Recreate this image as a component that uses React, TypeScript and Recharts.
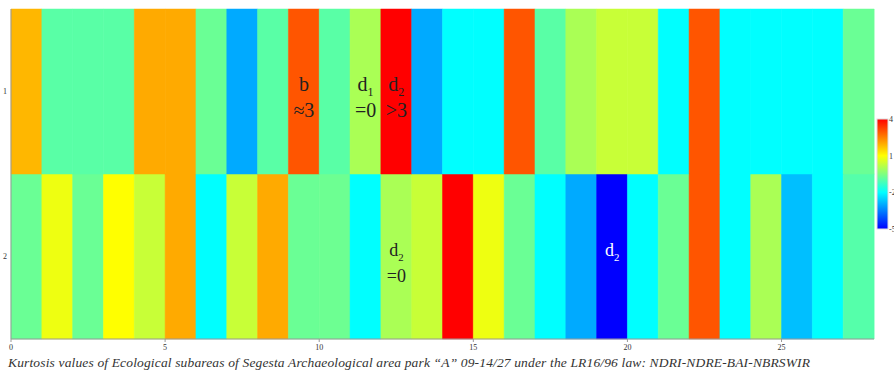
import React from 'react';
import { ComposedChart, Bar, XAxis, YAxis, Cell, LabelList } from 'recharts';

// Kurtosis per ecological subarea (28 columns), row "1" (top) and row "2" (bottom)
const row1Kurtosis = [1.85, -0.95, -0.95, -0.95, 2.0, 2.0, -0.75, -3.0, -0.95, 3.0, -0.95, 0.0, 4.0, -3.0, -2.0, -2.0, 3.0, -0.95, 0.0, 0.35, 0.35, -2.0, 3.0, -2.0, -2.0, -2.0, -2.0, -0.75];
const row2Kurtosis = [-0.75, 0.8, -0.75, 1.0, 0.35, 2.0, -2.0, 0.35, 2.0, -0.75, -0.72, -2.0, 0.0, 0.35, 4.0, 0.8, -0.75, -2.0, -3.0, -5.0, -2.0, -0.75, 3.0, -2.0, 0.0, -2.75, -2.0, -1.0];
const xTicks = [0, 5, 10, 15, 20, 25];
const yTickValues = [1.5, 0.5];
const yTickLabels = ['1', '2'];
const colorbarTicks = [4, 1, -2, -5];
const colorMin = -5;
const colorMax = 4;
const title = 'Kurtosis values of Ecological subareas of Segesta Archaeological area park \u201CA\u201D 09-14/27 under the LR16/96 law: NDRI-NDRE-BAI-NBRSWIR';

const annotations = [
  { row: 1, col: 9, main: 'b', sub: '', second: '\u22483', color: '#222' },
  { row: 1, col: 11, main: 'd', sub: '1', second: '=0', color: '#222' },
  { row: 1, col: 12, main: 'd', sub: '2', second: '>3', color: '#222' },
  { row: 2, col: 12, main: 'd', sub: '2', second: '=0', color: '#222' },
  { row: 2, col: 19, main: 'd', sub: '2', second: '', color: '#ffffff' },
];

const data = row1Kurtosis.map((k1, i) => ({ col: i, row1: 1, row2: 1, k1, k2: row2Kurtosis[i] }));

function lerp(a: number, b: number, t: number) {
  return Math.round(a + (b - a) * t);
}
function colorFor(v: number) {
  let t = (v - colorMin) / (colorMax - colorMin);
  t = Math.max(0, Math.min(1, t));
  const seg = Math.min(2, Math.floor(t * 3));
  const s = t * 3 - seg;
  let r = 0, g = 0, b = 0;
  if (seg === 0) { r = 0; g = lerp(0, 255, s); b = 255; }
  else if (seg === 1) { r = lerp(0, 255, s); g = 255; b = lerp(255, 0, s); }
  else { r = 255; g = lerp(255, 0, s); b = 0; }
  return `rgb(${r},${g},${b})`;
}

const serif = '"Liberation Serif", "DejaVu Serif", serif';

function makeAnnotation(row: number) {
  return (p: any) => {
    const a = annotations.find((q) => q.row === row && q.col === p.index);
    if (!a) return null;
    const cx = Number(p.x) + Number(p.width) / 2;
    const cy = Number(p.y) + Number(p.height) / 2;
    const fs = row === 1 ? 20 : 18;
    return (
      <g>
        <text x={cx} y={cy - 1} textAnchor="middle" fontFamily={serif} fontSize={fs} fill={a.color}>
          {a.main}
          {a.sub ? <tspan fontSize={fs * 0.6} dy={5}>{a.sub}</tspan> : null}
        </text>
        {a.second ? (
          <text x={cx} y={cy + 25} textAnchor="middle" fontFamily={serif} fontSize={fs} fill={a.color}>
            {a.second}
          </text>
        ) : null}
      </g>
    );
  };
}

const cbX = 877, cbY = 119, cbW = 11, cbH = 110;

export default function App() {
  return (
    <div style={{ position: 'absolute', left: 0, top: 0, width: 894, height: 376, background: '#fff' }}>
      <ComposedChart
        width={894}
        height={376}
        data={data}
        margin={{ top: 9, right: 20, bottom: 17, left: 0 }}
        barCategoryGap={0}
        barGap={0}
      >
        <XAxis
          xAxisId="num"
          dataKey="col"
          type="number"
          scale="linear"
          domain={[0, 28]}
          allowDataOverflow
          ticks={xTicks}
          interval={0}
          height={20}
          tickSize={3}
          tickMargin={2}
          stroke="#999"
          tick={{ fontSize: 8, fill: '#333', fontFamily: serif }}
        />
        <XAxis xAxisId="cat" dataKey="col" type="category" hide height={0} />
        <XAxis xAxisId="top" dataKey="col" orientation="top" type="number" scale="linear" domain={[0, 28]} allowDataOverflow height={0} tick={false} tickLine={false} stroke="#ccc" />
        <YAxis
          type="number"
          domain={[0, 2]}
          ticks={yTickValues}
          width={11}
          tickSize={0}
          tickMargin={4}
          stroke="#999"
          tickFormatter={(v: number) => yTickLabels[yTickValues.indexOf(v)]}
          tick={{ fontSize: 8, fill: '#333', fontFamily: serif }}
        />
        <YAxis yAxisId="r" orientation="right" type="number" domain={[0, 2]} width={0} tick={false} tickLine={false} stroke="#999" />
        <Bar xAxisId="cat" dataKey="row2" stackId="s" isAnimationActive={false}>
          {data.map((d, i) => (
            <Cell key={`b2-${i}`} fill={colorFor(d.k2)} stroke={colorFor(d.k2)} strokeWidth={0.5} />
          ))}
          <LabelList dataKey="row2" content={makeAnnotation(2)} />
        </Bar>
        <Bar xAxisId="cat" dataKey="row1" stackId="s" isAnimationActive={false}>
          {data.map((d, i) => (
            <Cell key={`b1-${i}`} fill={colorFor(d.k1)} stroke={colorFor(d.k1)} strokeWidth={0.5} />
          ))}
          <LabelList dataKey="row1" content={makeAnnotation(1)} />
        </Bar>
      </ComposedChart>
      <svg width={894} height={376} style={{ position: 'absolute', left: 0, top: 0, pointerEvents: 'none' }}>
        <defs>
          <linearGradient id="cbgrad" x1="0" y1="1" x2="0" y2="0">
            <stop offset="0%" stopColor={colorFor(-5)} />
            <stop offset="33.33%" stopColor={colorFor(-2)} />
            <stop offset="66.67%" stopColor={colorFor(1)} />
            <stop offset="100%" stopColor={colorFor(4)} />
          </linearGradient>
        </defs>
        <rect x={cbX} y={cbY} width={cbW} height={cbH} fill="url(#cbgrad)" stroke="#ddd" strokeWidth={1} />
        {colorbarTicks.map((v) => (
          <text
            key={v}
            x={889}
            y={cbY + ((colorMax - v) / (colorMax - colorMin)) * cbH + 3}
            fontSize={8}
            fontFamily={serif}
            fill="#333"
          >
            {String(v)}
          </text>
        ))}
        <text x={8} y={367} fontSize={13.5} fontStyle="italic" fontFamily={serif} fill="#333" textLength={802} lengthAdjust="spacing">
          {title}
        </text>
      </svg>
    </div>
  );
}
